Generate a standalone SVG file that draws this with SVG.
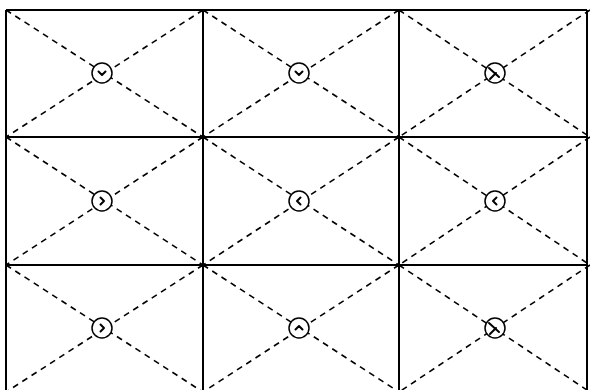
<svg xmlns="http://www.w3.org/2000/svg" width="590" height="390" viewBox="0 0 590 390">
<style>
.grid{stroke:#000;stroke-width:2;fill:none}
.dash{stroke:#000;stroke-width:1.6;stroke-dasharray:6 5;fill:none}
.node circle{fill:#fff;stroke:#000;stroke-width:1.5}
.chev{fill:none;stroke:#000;stroke-width:2;stroke-linecap:round;stroke-linejoin:round}
</style>
<defs>
<path id="v" class="chev" d="M-3.5,-1.5 L0,2 L3.5,-1.5"/>
<path id="w" class="chev" d="M-6,-5 L4,4 M-5,6 L1,0"/>
</defs>
<rect width="590" height="390" fill="#fff"/>
<g id="connectors">
<path class="dash" d="M6,10 L203,137 M203,10 L6,137 M203,10 L399,137 M399,10 L203,137 M399,10 L590,137 M590,10 L399,137"/>
<path class="dash" d="M6,137 L203,265 M203,137 L6,265 M203,137 L399,265 M399,137 L203,265 M399,137 L590,265 M590,137 L399,265"/>
<path class="dash" d="M6,265 L203,392 M203,265 L6,392 M203,265 L399,392 M399,265 L203,392 M399,265 L590,392 M590,265 L399,392"/>
<path class="grid" d="M6,10 H587 M6,137 H587 M6,265 H587 M6,10 V390 M203,10 V390 M399,10 V390 M587,10 V390"/>
</g>
<g id="n00" class="node"><circle cx="102" cy="73" r="10"/><use href="#v" transform="translate(102,73)"/></g>
<g id="n01" class="node"><circle cx="299" cy="73" r="10"/><use href="#v" transform="translate(299,73)"/></g>
<g id="n02" class="node"><circle cx="495" cy="73" r="10"/><use href="#w" transform="translate(495,73)"/></g>
<g id="n10" class="node"><circle cx="102" cy="201" r="10"/><use href="#v" transform="translate(102,201) rotate(-90)"/></g>
<g id="n11" class="node"><circle cx="299" cy="201" r="10"/><use href="#v" transform="translate(299,201) rotate(90)"/></g>
<g id="n12" class="node"><circle cx="495" cy="201" r="10"/><use href="#v" transform="translate(495,201) rotate(90)"/></g>
<g id="n20" class="node"><circle cx="102" cy="328" r="10"/><use href="#v" transform="translate(102,328) rotate(-90)"/></g>
<g id="n21" class="node"><circle cx="299" cy="328" r="10"/><use href="#v" transform="translate(299,328) rotate(180)"/></g>
<g id="n22" class="node"><circle cx="495" cy="328" r="10"/><use href="#w" transform="translate(495,328)"/></g>
</svg>
